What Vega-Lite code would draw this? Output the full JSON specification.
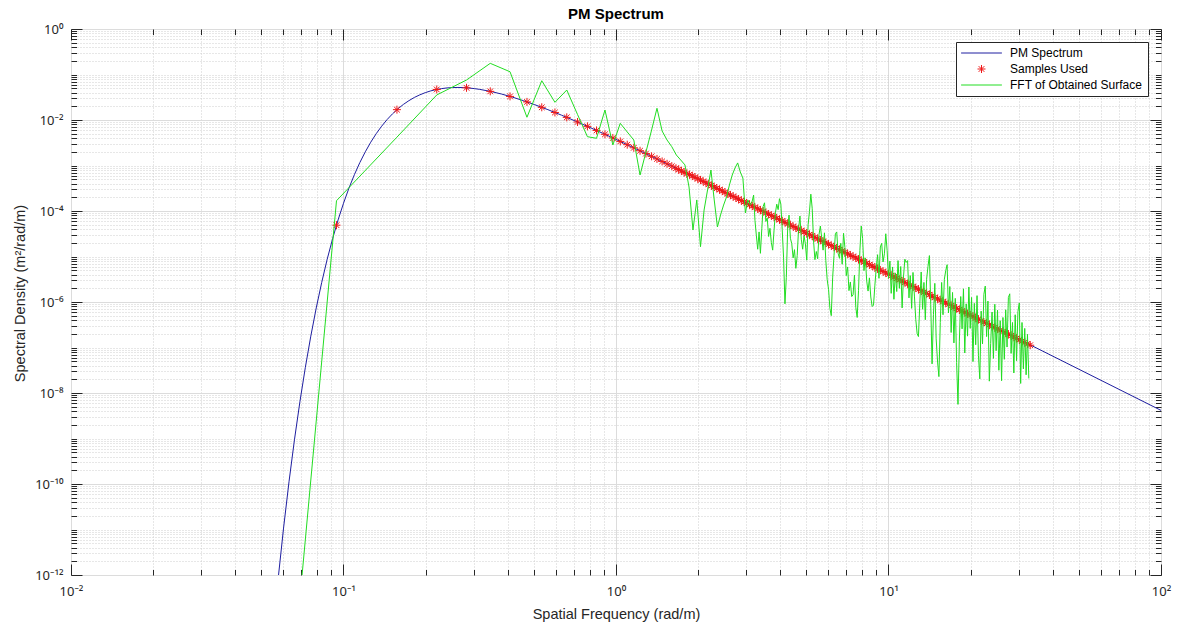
{
 "$schema": "https://vega.github.io/schema/vega-lite/v6.json",
 "width": 1090, "height": 546,
 "autosize": {"type": "none"},
 "padding": {"left": 71, "top": 29, "right": 18, "bottom": 51},
 "background": "#ffffff",
 "title": {"text": "PM Spectrum", "font": "Liberation Sans", "fontSize": 15, "fontWeight": "bold", "color": "#000000", "anchor": "middle", "offset": 8, "baseline": "alphabetic", "dy": 19},
 "config": {"font": "Liberation Sans", "view": {"stroke": "#262626", "strokeWidth": 1}, "axis": {"labelFont": "Noto Sans, DejaVu Sans", "titleFont": "Liberation Sans"}},
 "datasets": {
  "pm": [
   {"k":0.05495,"S":4.68e-14},{"k":0.05754,"S":8.05e-13},{"k":0.06026,"S":1.074e-11},{"k":0.0631,"S":1.12e-10},{"k":0.06607,"S":9.33e-10},{"k":0.06918,"S":6.4e-9},{"k":0.07244,"S":3.66e-8},{"k":0.07586,"S":1.778e-7},{"k":0.07943,"S":7.4e-7},{"k":0.08318,"S":2.69e-6},{"k":0.0871,"S":8.63e-6},{"k":0.0912,"S":2.46e-5},{"k":0.0955,"S":6.34e-5},{"k":0.1,"S":1.48e-4},{"k":0.10471,"S":3.18e-4},{"k":0.10965,"S":6.3e-4},{"k":0.11482,"S":1.161e-3},{"k":0.12023,"S":2.0e-3},{"k":0.12589,"S":3.25e-3},{"k":0.13183,"S":5.0e-3},{"k":0.13804,"S":7.31e-3},{"k":0.14454,"S":1.022e-2},{"k":0.15136,"S":1.37e-2},{"k":0.15849,"S":1.769e-2},{"k":0.16596,"S":2.205e-2},{"k":0.17378,"S":2.66e-2},{"k":0.18197,"S":3.13e-2},{"k":0.19055,"S":3.57e-2},{"k":0.19953,"S":3.99e-2},{"k":0.20893,"S":4.36e-2},{"k":0.21878,"S":4.66e-2},{"k":0.22909,"S":4.9e-2},{"k":0.23988,"S":5.07e-2},{"k":0.25119,"S":5.16e-2},{"k":0.26303,"S":5.19e-2},{"k":0.27542,"S":5.15e-2},{"k":0.2884,"S":5.05e-2},{"k":0.302,"S":4.9e-2},{"k":0.31623,"S":4.71e-2},{"k":0.34674,"S":4.25e-2},{"k":0.38019,"S":3.72e-2},{"k":0.41687,"S":3.18e-2},{"k":0.45709,"S":2.66e-2},{"k":0.50119,"S":2.19e-2},{"k":0.56234,"S":1.688e-2},{"k":0.63096,"S":1.277e-2},{"k":0.70795,"S":9.53e-3},{"k":0.79433,"S":7.04e-3},{"k":0.89125,"S":5.15e-3},{"k":1,"S":3.745e-3},{"k":1.2589,"S":1.95e-3},{"k":1.5849,"S":1.0e-3},{"k":1.9953,"S":5.09e-4},{"k":2.5119,"S":2.58e-4},{"k":3.1623,"S":1.299e-4},{"k":5.0119,"S":3.283e-5},{"k":10,"S":4.146e-6},{"k":31.623,"S":1.312e-7},{"k":100,"S":4.15e-9}
  ],
  "samplesA": [
   {"k":0.094248,"S":4.88e-5},{"k":0.15708,"S":1.688e-2},{"k":0.21991,"S":4.69e-2},{"k":0.28274,"S":5.1e-2},{"k":0.34558,"S":4.265e-2},{"k":0.40841,"S":3.3e-2},{"k":0.47124,"S":2.5e-2},{"k":0.53407,"S":1.902e-2},{"k":0.5969,"S":1.464e-2},{"k":0.65973,"S":1.142e-2},{"k":0.72257,"S":9.04e-3},{"k":0.7854,"S":7.25e-3},{"k":0.84823,"S":5.9e-3},{"k":0.91106,"S":4.85e-3},{"k":0.97389,"S":4.03e-3},{"k":1.03673,"S":3.385e-3},{"k":1.09956,"S":2.868e-3},{"k":1.16239,"S":2.449e-3},{"k":1.22522,"S":2.108e-3},{"k":1.28805,"S":1.826e-3},{"k":1.35088,"S":1.591e-3},{"k":1.41372,"S":1.395e-3},{"k":1.47655,"S":1.23e-3},{"k":1.53938,"S":1.089e-3},{"k":1.60221,"S":9.69e-4}
  ],
  "samplesB": [
   {"k":1.66,"S":8.71e-4},{"k":1.698,"S":8.13e-4},{"k":1.738,"S":7.59e-4},{"k":1.778,"S":7.08e-4},{"k":1.82,"S":6.61e-4},{"k":1.862,"S":6.31e-4},{"k":1.905,"S":5.89e-4},{"k":1.95,"S":5.5e-4},{"k":1.995,"S":5.13e-4},{"k":2.042,"S":4.79e-4},{"k":2.089,"S":4.47e-4},{"k":2.138,"S":4.17e-4},{"k":2.188,"S":3.89e-4},{"k":2.239,"S":3.63e-4},{"k":2.291,"S":3.39e-4},{"k":2.344,"S":3.16e-4},{"k":2.399,"S":2.95e-4},{"k":2.455,"S":2.75e-4},{"k":2.512,"S":2.57e-4},{"k":2.57,"S":2.4e-4},{"k":2.63,"S":2.24e-4},{"k":2.692,"S":2.09e-4},{"k":2.754,"S":1.95e-4},{"k":2.818,"S":1.82e-4},{"k":2.884,"S":1.7e-4},{"k":2.951,"S":1.585e-4},{"k":3.02,"S":1.479e-4},{"k":3.09,"S":1.38e-4},{"k":3.162,"S":1.288e-4},
   {"k":3.236,"S":1.202e-4},{"k":3.311,"S":1.122e-4},{"k":3.388,"S":1.047e-4},{"k":3.467,"S":9.77e-5},{"k":3.548,"S":9.12e-5},{"k":3.631,"S":8.51e-5},{"k":3.715,"S":7.94e-5},{"k":3.802,"S":7.41e-5},{"k":3.89,"S":6.92e-5},{"k":3.981,"S":6.46e-5},{"k":4.074,"S":6.03e-5},{"k":4.169,"S":5.62e-5},{"k":4.266,"S":5.25e-5},{"k":4.365,"S":4.9e-5},{"k":4.467,"S":4.57e-5},{"k":4.571,"S":4.27e-5},{"k":4.677,"S":3.98e-5},{"k":4.786,"S":3.72e-5},{"k":4.898,"S":3.47e-5},{"k":5.012,"S":3.24e-5},{"k":5.129,"S":3.02e-5},{"k":5.248,"S":2.82e-5},{"k":5.37,"S":2.63e-5},{"k":5.495,"S":2.45e-5},{"k":5.623,"S":2.29e-5},{"k":5.754,"S":2.14e-5},{"k":5.888,"S":2.0e-5},{"k":6.026,"S":1.862e-5},{"k":6.166,"S":1.738e-5},{"k":6.31,"S":1.622e-5},{"k":6.457,"S":1.514e-5},{"k":6.607,"S":1.413e-5},{"k":6.761,"S":1.318e-5},{"k":6.918,"S":1.23e-5},{"k":7.079,"S":1.148e-5},{"k":7.244,"S":1.072e-5},{"k":7.413,"S":1.0e-5},{"k":7.586,"S":9.33e-6},{"k":7.762,"S":8.71e-6},{"k":7.943,"S":8.13e-6},{"k":8.128,"S":7.59e-6},{"k":8.318,"S":7.08e-6},{"k":8.511,"S":6.61e-6},{"k":8.71,"S":6.17e-6},{"k":8.913,"S":5.75e-6},{"k":9.12,"S":5.37e-6},{"k":9.333,"S":5.01e-6},{"k":9.55,"S":4.68e-6},{"k":9.772,"S":4.37e-6},{"k":10,"S":4.07e-6},
   {"k":10.23,"S":3.8e-6},{"k":10.47,"S":3.55e-6},{"k":10.72,"S":3.31e-6},{"k":10.96,"S":3.09e-6},{"k":11.22,"S":2.88e-6},{"k":11.48,"S":2.69e-6},{"k":11.75,"S":2.51e-6},{"k":12.02,"S":2.34e-6},{"k":12.3,"S":2.19e-6},{"k":12.59,"S":2.04e-6},{"k":12.88,"S":1.905e-6},{"k":13.18,"S":1.778e-6},{"k":13.49,"S":1.66e-6},{"k":13.8,"S":1.549e-6},{"k":14.13,"S":1.445e-6},{"k":14.45,"S":1.349e-6},{"k":14.79,"S":1.259e-6},{"k":15.14,"S":1.175e-6},{"k":15.49,"S":1.096e-6},{"k":15.85,"S":1.023e-6},{"k":16.22,"S":9.55e-7},{"k":16.6,"S":8.91e-7},{"k":16.98,"S":8.32e-7},{"k":17.38,"S":7.76e-7},{"k":17.78,"S":7.24e-7},{"k":18.2,"S":6.76e-7},{"k":18.62,"S":6.31e-7},{"k":19.05,"S":5.89e-7},{"k":19.5,"S":5.5e-7},{"k":19.95,"S":5.13e-7},{"k":20.42,"S":4.79e-7},{"k":20.89,"S":4.47e-7},{"k":21.38,"S":4.17e-7},{"k":21.88,"S":3.89e-7},{"k":22.39,"S":3.63e-7},{"k":22.91,"S":3.39e-7},{"k":23.44,"S":3.16e-7},{"k":23.99,"S":2.95e-7},{"k":24.55,"S":2.75e-7},{"k":25.12,"S":2.57e-7},{"k":25.7,"S":2.4e-7},{"k":26.3,"S":2.24e-7},{"k":26.92,"S":2.09e-7},{"k":27.54,"S":1.95e-7},{"k":28.18,"S":1.82e-7},{"k":28.84,"S":1.7e-7},{"k":29.51,"S":1.585e-7},{"k":30.2,"S":1.479e-7},{"k":30.9,"S":1.38e-7},{"k":31.62,"S":1.288e-7},{"k":32.36,"S":1.202e-7},{"k":33.11,"S":1.122e-7}
  ],
  "fft": [
   {"k":0.031416,"S":1.4e-35},{"k":0.094248,"S":1.68e-4},{"k":0.15708,"S":4.2e-3},{"k":0.21991,"S":3.55e-2},{"k":0.28274,"S":7.57e-2},{"k":0.34558,"S":0.176},{"k":0.40841,"S":0.115},{"k":0.47124,"S":1.15e-2},{"k":0.53407,"S":7.3e-2},{"k":0.5969,"S":2.45e-2},{"k":0.65973,"S":4.56e-2},{"k":0.72257,"S":1.32e-2},{"k":0.7854,"S":4.3e-3},{"k":0.84823,"S":3.96e-3},{"k":0.91106,"S":1.66e-2},{"k":0.97389,"S":2.82e-3},
   {"k":1.0367,"S":8.45e-3},{"k":1.0996,"S":5.45e-3},{"k":1.1624,"S":3.63e-3},{"k":1.2252,"S":6.18e-4},{"k":1.2881,"S":1.98e-3},{"k":1.3509,"S":6.03e-3},{"k":1.4137,"S":1.81e-2},{"k":1.4765,"S":5.73e-3},{"k":1.5394,"S":3.63e-3},{"k":1.6022,"S":2.59e-3},{"k":1.665,"S":1.7e-3},{"k":1.7279,"S":1.32e-3},{"k":1.7907,"S":1.03e-3},{"k":1.8535,"S":3.37e-4},{"k":1.9164,"S":3.82e-5},{"k":1.9792,"S":1.75e-4},{"k":2.042,"S":1.64e-5},{"k":2.1049,"S":1.05e-4},{"k":2.1677,"S":2.9e-4},{"k":2.2305,"S":7.96e-4},{"k":2.2934,"S":1.75e-4},{"k":2.3562,"S":4.45e-5},{"k":2.419,"S":8.17e-5},{"k":2.4819,"S":1.35e-4},{"k":2.5447,"S":2.03e-4},{"k":2.6075,"S":3.73e-4},{"k":2.6704,"S":6.18e-4},{"k":2.7332,"S":8.81e-4},{"k":2.796,"S":1.14e-3},{"k":2.8588,"S":7.19e-4},{"k":2.9217,"S":5.31e-4},{"k":2.9845,"S":9.04e-5},{"k":3.0473,"S":1.75e-4},{"k":3.1102,"S":1.35e-4},
   {"k":3.162,"S":1.66e-4},{"k":3.199,"S":2.239e-4},{"k":3.236,"S":6.166e-5},{"k":3.273,"S":2.951e-5},{"k":3.311,"S":1.445e-5},{"k":3.35,"S":3.467e-5},{"k":3.388,"S":1.175e-5},{"k":3.428,"S":4.074e-5},{"k":3.467,"S":1.259e-4},{"k":3.508,"S":1.514e-4},{"k":3.548,"S":5.888e-5},{"k":3.589,"S":7.079e-5},{"k":3.631,"S":2.754e-5},{"k":3.673,"S":4.169e-5},{"k":3.715,"S":2.042e-5},{"k":3.758,"S":1.38e-5},{"k":3.802,"S":3.802e-5},{"k":3.846,"S":9.12e-5},{"k":3.89,"S":1.413e-4},{"k":3.936,"S":1.072e-4},{"k":3.981,"S":1.862e-4},{"k":4.027,"S":1.413e-4},{"k":4.074,"S":3.89e-5},{"k":4.121,"S":9.333e-6},{"k":4.169,"S":9.12e-7},{"k":4.217,"S":3.467e-6},{"k":4.266,"S":4.266e-5},{"k":4.315,"S":8.128e-5},{"k":4.365,"S":2.512e-5},{"k":4.416,"S":1.905e-5},{"k":4.467,"S":9.333e-6},{"k":4.519,"S":1.413e-5},{"k":4.571,"S":5.495e-6},{"k":4.624,"S":1.047e-5},{"k":4.677,"S":4.074e-5},{"k":4.732,"S":7.762e-5},{"k":4.786,"S":2.399e-5},{"k":4.842,"S":1.445e-5},{"k":4.898,"S":2.818e-5},{"k":4.955,"S":1.905e-5},
   {"k":5.012,"S":8.318e-6},{"k":5.07,"S":5.012e-5},{"k":5.129,"S":9.772e-5},{"k":5.188,"S":2.344e-4},{"k":5.248,"S":1.148e-4},{"k":5.309,"S":2.188e-5},{"k":5.37,"S":8.511e-6},{"k":5.433,"S":1.288e-5},{"k":5.495,"S":8.913e-6},{"k":5.559,"S":3.02e-5},{"k":5.623,"S":4.677e-5},{"k":5.689,"S":2.512e-5},{"k":5.754,"S":1.38e-5},{"k":5.821,"S":3.311e-5},{"k":5.888,"S":8.128e-6},{"k":5.957,"S":3.09e-6},{"k":6.026,"S":1.905e-6},{"k":6.095,"S":7.244e-7},{"k":6.166,"S":5.012e-7},{"k":6.237,"S":3.388e-6},{"k":6.31,"S":1.047e-5},{"k":6.383,"S":3.162e-5},{"k":6.457,"S":3.467e-5},{"k":6.531,"S":1.175e-5},{"k":6.607,"S":9.12e-6},{"k":6.683,"S":1.95e-5},{"k":6.761,"S":6.761e-6},{"k":6.839,"S":3.236e-5},{"k":6.918,"S":1.585e-5},{"k":6.998,"S":3.802e-6},{"k":7.079,"S":5.888e-6},{"k":7.161,"S":1.778e-6},{"k":7.244,"S":2.754e-6},{"k":7.328,"S":1.318e-6},{"k":7.413,"S":1.445e-6},{"k":7.499,"S":3.89e-6},{"k":7.586,"S":7.586e-7},{"k":7.674,"S":4.571e-7},{"k":7.762,"S":1.778e-6},{"k":7.852,"S":1.349e-5},
   {"k":7.943,"S":4.677e-5},{"k":8.035,"S":2.512e-5},{"k":8.128,"S":4.898e-6},{"k":8.222,"S":9.333e-6},{"k":8.318,"S":2.884e-6},{"k":8.414,"S":1.738e-6},{"k":8.511,"S":3.388e-6},{"k":8.61,"S":1.288e-6},{"k":8.71,"S":7.943e-7},{"k":8.81,"S":8.511e-7},{"k":8.913,"S":2.344e-6},{"k":9.016,"S":5.623e-6},{"k":9.12,"S":1.096e-5},{"k":9.226,"S":3.311e-6},{"k":9.333,"S":1.622e-5},{"k":9.441,"S":1.95e-5},{"k":9.55,"S":7.586e-6},{"k":9.661,"S":1.148e-5},{"k":9.772,"S":3.162e-5},{"k":9.886,"S":1.349e-5},
   {"k":10,"S":3.311e-6},{"k":10.12,"S":7.943e-6},{"k":10.23,"S":1.549e-6},{"k":10.35,"S":5.888e-6},{"k":10.47,"S":1.148e-6},{"k":10.59,"S":4.365e-6},{"k":10.72,"S":1.698e-6},{"k":10.84,"S":8.128e-6},{"k":10.96,"S":1.995e-6},{"k":11.09,"S":6.026e-6},{"k":11.22,"S":7.413e-7},{"k":11.35,"S":3.548e-6},{"k":11.48,"S":8.71e-6},{"k":11.61,"S":7.413e-6},{"k":11.75,"S":8.128e-6},{"k":11.89,"S":1.23e-6},{"k":12.02,"S":3.802e-6},{"k":12.16,"S":7.244e-7},{"k":12.3,"S":4.467e-6},{"k":12.45,"S":1.349e-6},{"k":12.59,"S":4.169e-7},{"k":12.74,"S":1.995e-7},{"k":12.88,"S":1.738e-7},{"k":13.03,"S":9.333e-7},{"k":13.18,"S":4.571e-6},{"k":13.34,"S":6.918e-7},{"k":13.49,"S":2.692e-6},{"k":13.65,"S":4.074e-7},{"k":13.8,"S":3.162e-6},{"k":13.96,"S":6.026e-6},{"k":14.13,"S":1.047e-5},{"k":14.29,"S":8.913e-7},{"k":14.45,"S":4.365e-8},{"k":14.62,"S":5.248e-7},{"k":14.79,"S":2.57e-6},{"k":14.96,"S":1.549e-7},{"k":15.14,"S":4.786e-8},{"k":15.31,"S":2.291e-8},{"k":15.49,"S":3.548e-7},{"k":15.67,"S":2.692e-6},
   {"k":15.85,"S":5.248e-7},{"k":16.03,"S":3.162e-6},{"k":16.22,"S":4.898e-6},{"k":16.41,"S":6.607e-6},{"k":16.6,"S":5.754e-7},{"k":16.79,"S":2.188e-6},{"k":16.98,"S":2.138e-7},{"k":17.18,"S":1.622e-6},{"k":17.38,"S":1.259e-7},{"k":17.58,"S":1.202e-6},{"k":17.78,"S":4.677e-8},{"k":17.99,"S":5.623e-9},{"k":18.2,"S":1.38e-7},{"k":18.41,"S":1.318e-6},{"k":18.62,"S":2.57e-7},{"k":18.84,"S":1.95e-6},{"k":19.05,"S":7.586e-8},{"k":19.28,"S":9.12e-7},{"k":19.5,"S":1.778e-7},{"k":19.72,"S":2.138e-6},{"k":19.95,"S":2.63e-7},{"k":20.18,"S":1.259e-6},{"k":20.42,"S":4.898e-8},{"k":20.65,"S":9.333e-7},{"k":20.89,"S":1.148e-7},{"k":21.13,"S":1.38e-6},{"k":21.38,"S":6.761e-8},{"k":21.63,"S":2.042e-8},{"k":21.88,"S":6.31e-7},{"k":22.13,"S":1.202e-7},{"k":22.39,"S":1.479e-6},{"k":22.65,"S":2.239e-6},{"k":22.91,"S":1.738e-7},{"k":23.17,"S":1.047e-6},{"k":23.44,"S":1.82e-8},{"k":23.71,"S":1.23e-7},{"k":23.99,"S":6.026e-7},{"k":24.27,"S":5.754e-8},{"k":24.55,"S":8.913e-7},{"k":24.83,"S":8.511e-8},
   {"k":25.12,"S":6.607e-7},{"k":25.41,"S":3.162e-8},{"k":25.7,"S":3.89e-7},{"k":26,"S":1.862e-8},{"k":26.3,"S":4.571e-7},{"k":26.61,"S":5.495e-8},{"k":26.92,"S":6.761e-7},{"k":27.23,"S":1.023e-7},{"k":27.54,"S":1.259e-6},{"k":27.86,"S":1.514e-6},{"k":28.18,"S":7.413e-8},{"k":28.51,"S":3.548e-7},{"k":28.84,"S":2.754e-8},{"k":29.17,"S":5.248e-7},{"k":29.51,"S":5.129e-8},{"k":29.85,"S":6.166e-7},{"k":30.2,"S":9.55e-7},{"k":30.55,"S":1.622e-8},{"k":30.9,"S":3.548e-7},{"k":31.26,"S":3.388e-8},{"k":31.62,"S":2.63e-7},{"k":31.99,"S":2.512e-8},{"k":32.36,"S":1.95e-7},{"k":32.73,"S":2.089e-8}
  ]
 },
 "layer": [
  {
   "data": {"name": "pm"},
   "mark": {"type": "line", "strokeWidth": 1, "clip": true},
   "encoding": {
    "x": {"field": "k", "type": "quantitative", "scale": {"type": "log", "domain": [0.01, 100], "nice": false},
     "axis": {"orient": "bottom", "values": [0.01, 0.1, 1, 10, 100],
      "labelExpr": "'10' + ['⁻²','⁻¹','⁰','¹','²'][round(log(datum.value)/LN10) + 2]",
      "labelFlush": false, "labelOverlap": false, "labelFontSize": 13, "labelColor": "#262626", "labelPadding": 21,
      "ticks": true, "tickSize": -11, "tickColor": "#262626", "tickWidth": 1, "domain": false,
      "grid": true, "gridColor": "#dcdcdc", "gridWidth": 1,
      "title": "Spatial Frequency (rad/m)", "titleFontSize": 14.5, "titleFontWeight": "normal", "titleColor": "#262626", "titleY": 39, "titleBaseline": "middle"}},
    "y": {"field": "S", "type": "quantitative", "scale": {"type": "log", "domain": [1e-12, 1], "nice": false},
     "axis": {"orient": "left", "values": [1e-12, 1e-10, 1e-8, 1e-6, 1e-4, 1e-2, 1],
      "labelExpr": "'10' + ['⁰','⁻¹','⁻²','⁻³','⁻⁴','⁻⁵','⁻⁶','⁻⁷','⁻⁸','⁻⁹','⁻¹⁰','⁻¹¹','⁻¹²'][-round(log(datum.value)/LN10)]",
      "labelFlush": false, "labelOverlap": false, "labelFontSize": 13, "labelColor": "#262626", "labelPadding": 19,
      "ticks": true, "tickSize": -11, "tickColor": "#262626", "tickWidth": 1, "domain": false,
      "grid": true, "gridColor": "#dcdcdc", "gridWidth": 1,
      "title": "Spectral Density (m²/rad/m)", "titleFontSize": 14.5, "titleFontWeight": "normal", "titleColor": "#262626", "titleX": -51, "titleY": 264, "titleBaseline": "middle", "titleAngle": -90}},
    "color": {"datum": "PM Spectrum", "type": "nominal",
     "scale": {"domain": ["PM Spectrum", "Samples Used", "FFT of Obtained Surface"], "range": ["#1e1ea0", "#f01818", "#22dd22"]},
     "legend": {"orient": "top-right", "offset": 13, "title": null, "padding": 5, "rowPadding": 4, "labelOffset": 37,
      "fillColor": "#ffffff", "strokeColor": "#262626",
      "symbolType": "M-5.1,0L5.1,0", "symbolSize": 64, "symbolStrokeWidth": 1,
      "labelFont": "Liberation Sans", "labelFontSize": 12, "labelColor": "#000000",
      "encode": {"symbols": {"update": {
       "shape": {"signal": "datum.value === 'Samples Used' ? 'M-1,0L1,0M0,-1L0,1M-0.71,-0.71L0.71,0.71M-0.71,0.71L0.71,-0.71' : 'M-5.1,0L5.1,0'"},
       "x": {"value": 20.5}}}}}}
   }
  },
  {
   "data": {"name": "samplesA"},
   "mark": {"type": "point", "shape": "M-1,0L1,0M0,-1L0,1M-0.71,-0.71L0.71,0.71M-0.71,0.71L0.71,-0.71", "filled": false, "size": 64, "strokeWidth": 1, "opacity": 1, "clip": true},
   "encoding": {
    "x": {"field": "k", "type": "quantitative", "scale": {"type": "log", "domain": [0.01, 100], "nice": false},
     "axis": {"orient": "bottom", "values": [0.02,0.03,0.04,0.05,0.06,0.07,0.08,0.09,0.2,0.3,0.4,0.5,0.6,0.7,0.8,0.9,2,3,4,5,6,7,8,9,20,30,40,50,60,70,80,90],
      "labels": false, "domain": false, "grid": true, "gridColor": "#cfcfcf", "gridDash": [1, 2], "gridWidth": 1,
      "ticks": true, "tickSize": -5.5, "tickColor": "#262626", "tickWidth": 1, "title": null}},
    "y": {"field": "S", "type": "quantitative", "scale": {"type": "log", "domain": [1e-12, 1], "nice": false},
     "axis": {"orient": "left", "values": [2e-12,3e-12,4e-12,5e-12,6e-12,7e-12,8e-12,9e-12,1e-11,2e-11,3e-11,4e-11,5e-11,6e-11,7e-11,8e-11,9e-11,2e-10,3e-10,4e-10,5e-10,6e-10,7e-10,8e-10,9e-10,1e-9,2e-9,3e-9,4e-9,5e-9,6e-9,7e-9,8e-9,9e-9,2e-8,3e-8,4e-8,5e-8,6e-8,7e-8,8e-8,9e-8,1e-7,2e-7,3e-7,4e-7,5e-7,6e-7,7e-7,8e-7,9e-7,2e-6,3e-6,4e-6,5e-6,6e-6,7e-6,8e-6,9e-6,1e-5,2e-5,3e-5,4e-5,5e-5,6e-5,7e-5,8e-5,9e-5,2e-4,3e-4,4e-4,5e-4,6e-4,7e-4,8e-4,9e-4,1e-3,2e-3,3e-3,4e-3,5e-3,6e-3,7e-3,8e-3,9e-3,2e-2,3e-2,4e-2,5e-2,6e-2,7e-2,8e-2,9e-2,1e-1,0.2,0.3,0.4,0.5,0.6,0.7,0.8,0.9],
      "labels": false, "domain": false, "grid": true, "gridColor": "#cfcfcf", "gridDash": [1, 2], "gridWidth": 1,
      "ticks": true, "tickSize": -5.5, "tickColor": "#262626", "tickWidth": 1, "title": null}},
    "color": {"datum": "Samples Used", "type": "nominal", "legend": null}
   }
  },
  {
   "data": {"name": "samplesB"},
   "mark": {"type": "point", "shape": "M-1,0L1,0M0,-1L0,1M-0.71,-0.71L0.71,0.71M-0.71,0.71L0.71,-0.71", "filled": false, "size": 64, "strokeWidth": 1, "opacity": 1, "clip": true},
   "encoding": {
    "x": {"field": "k", "type": "quantitative", "scale": {"type": "log", "domain": [0.01, 100], "nice": false},
     "axis": {"orient": "top", "values": [0.01, 0.1, 1, 10, 100], "labels": false, "domain": false, "grid": false,
      "ticks": true, "tickSize": -11, "tickColor": "#262626", "tickWidth": 1, "title": null}},
    "y": {"field": "S", "type": "quantitative", "scale": {"type": "log", "domain": [1e-12, 1], "nice": false},
     "axis": {"orient": "right", "values": [1e-12, 1e-10, 1e-8, 1e-6, 1e-4, 1e-2, 1], "labels": false, "domain": false, "grid": false,
      "ticks": true, "tickSize": -11, "tickColor": "#262626", "tickWidth": 1, "title": null}},
    "color": {"datum": "Samples Used", "type": "nominal", "legend": null}
   }
  },
  {
   "data": {"name": "fft"},
   "mark": {"type": "line", "strokeWidth": 1, "clip": true},
   "encoding": {
    "x": {"field": "k", "type": "quantitative", "scale": {"type": "log", "domain": [0.01, 100], "nice": false},
     "axis": {"orient": "top", "values": [0.02,0.03,0.04,0.05,0.06,0.07,0.08,0.09,0.2,0.3,0.4,0.5,0.6,0.7,0.8,0.9,2,3,4,5,6,7,8,9,20,30,40,50,60,70,80,90],
      "labels": false, "domain": false, "grid": false, "ticks": true, "tickSize": -5.5, "tickColor": "#262626", "tickWidth": 1, "title": null}},
    "y": {"field": "S", "type": "quantitative", "scale": {"type": "log", "domain": [1e-12, 1], "nice": false},
     "axis": {"orient": "right", "values": [2e-12,3e-12,4e-12,5e-12,6e-12,7e-12,8e-12,9e-12,1e-11,2e-11,3e-11,4e-11,5e-11,6e-11,7e-11,8e-11,9e-11,2e-10,3e-10,4e-10,5e-10,6e-10,7e-10,8e-10,9e-10,1e-9,2e-9,3e-9,4e-9,5e-9,6e-9,7e-9,8e-9,9e-9,2e-8,3e-8,4e-8,5e-8,6e-8,7e-8,8e-8,9e-8,1e-7,2e-7,3e-7,4e-7,5e-7,6e-7,7e-7,8e-7,9e-7,2e-6,3e-6,4e-6,5e-6,6e-6,7e-6,8e-6,9e-6,1e-5,2e-5,3e-5,4e-5,5e-5,6e-5,7e-5,8e-5,9e-5,2e-4,3e-4,4e-4,5e-4,6e-4,7e-4,8e-4,9e-4,1e-3,2e-3,3e-3,4e-3,5e-3,6e-3,7e-3,8e-3,9e-3,2e-2,3e-2,4e-2,5e-2,6e-2,7e-2,8e-2,9e-2,1e-1,0.2,0.3,0.4,0.5,0.6,0.7,0.8,0.9],
      "labels": false, "domain": false, "grid": false, "ticks": true, "tickSize": -5.5, "tickColor": "#262626", "tickWidth": 1, "title": null}},
    "color": {"datum": "FFT of Obtained Surface", "type": "nominal", "legend": null}
   }
  }
 ],
 "resolve": {"axis": {"x": "independent", "y": "independent"}}
}
